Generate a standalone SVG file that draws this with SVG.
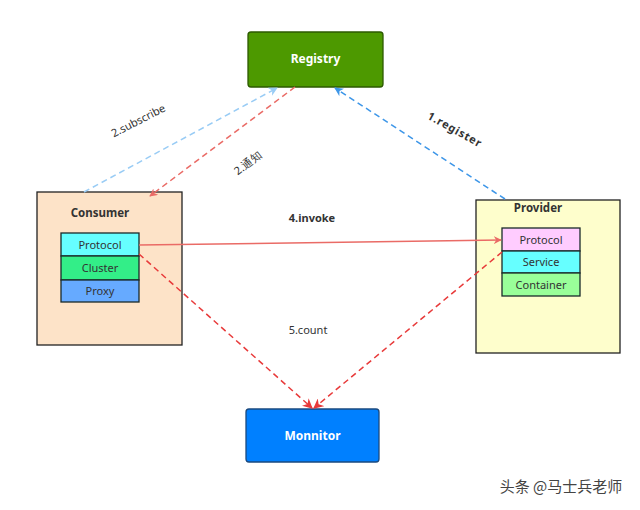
<svg xmlns="http://www.w3.org/2000/svg" width="640" height="510" viewBox="0 0 640 510">
<style>
text{font-family:"Noto Sans","Open Sans",sans-serif;font-size:11px;fill:#333;}
.b{font-weight:bold;}
.w{fill:#fff;font-weight:bold;font-size:12px;}
.box{stroke:#222;stroke-width:1.3;}
.in{stroke:#1a2a2a;stroke-width:1.3;}
.c{text-anchor:middle;}
.dash{fill:none;stroke-width:1.5;stroke-dasharray:6,4;}
</style>
<defs>
<marker id="ar" viewBox="0 0 10 10" refX="9" refY="5" markerWidth="8" markerHeight="8" orient="auto" markerUnits="userSpaceOnUse"><path d="M0,0 L10,5 L0,10 L3,5 Z" fill="#ea6b66"/></marker>
<marker id="ar2" viewBox="0 0 10 10" refX="9" refY="5" markerWidth="10" markerHeight="10" orient="auto" markerUnits="userSpaceOnUse"><path d="M0,0 L10,5 L0,10 L3,5 Z" fill="#e83a3a"/></marker>
<marker id="ab1" viewBox="0 0 10 10" refX="9" refY="5" markerWidth="9" markerHeight="9" orient="auto" markerUnits="userSpaceOnUse"><path d="M0,0 L10,5 L0,10 L3,5 Z" fill="#99ccf5"/></marker>
<marker id="ab2" viewBox="0 0 10 10" refX="9" refY="5" markerWidth="9" markerHeight="9" orient="auto" markerUnits="userSpaceOnUse"><path d="M0,0 L10,5 L0,10 L3,5 Z" fill="#3d96e8"/></marker>
</defs>

<g id="registry">
<rect x="248" y="32" width="135" height="55" rx="3" fill="#4d9900" stroke="#2d5a00" stroke-width="1.3"/>
<text x="315.5" y="63" class="w c">Registry</text>
</g>

<g id="consumer">
<rect x="37" y="192" width="145" height="153" fill="#fde3c8" class="box"/>
<text x="100" y="217" class="b c" style="font-size:11.5px">Consumer</text>
<rect x="61" y="233" width="78" height="23" fill="#66ffff" class="in"/>
<text x="100" y="248.5" class="c">Protocol</text>
<rect x="61" y="256" width="78" height="24" fill="#33ee88" class="in"/>
<text x="100" y="272" class="c">Cluster</text>
<rect x="61" y="280" width="78" height="22" fill="#66aaff" class="in"/>
<text x="100" y="295" class="c">Proxy</text>
</g>

<g id="provider">
<rect x="476" y="200" width="144" height="153" fill="#fefecc" class="box"/>
<text x="538" y="212" class="b c" style="font-size:11.5px">Provider</text>
<rect x="502" y="228" width="78" height="23" fill="#ffccff" class="in"/>
<text x="541" y="243.5" class="c">Protocol</text>
<rect x="502" y="251" width="78" height="22" fill="#66ffff" class="in"/>
<text x="541" y="266" class="c">Service</text>
<rect x="502" y="273" width="78" height="23" fill="#99ff99" class="in"/>
<text x="541" y="288.5" class="c">Container</text>
</g>

<g id="monitor">
<rect x="246" y="409" width="133" height="53" rx="3" fill="#0080ff" stroke="#1a4a80" stroke-width="1.3"/>
<text x="312.5" y="440" class="w c">Monnitor</text>
</g>

<g id="connectors">
<line x1="84" y1="192" x2="277" y2="88" stroke="#99ccf5" class="dash" marker-end="url(#ab1)"/>
<line x1="295" y1="87" x2="150" y2="196" stroke="#ea6b66" class="dash" marker-end="url(#ar)"/>
<line x1="505" y1="199" x2="335" y2="88" stroke="#3d96e8" class="dash" marker-end="url(#ab2)"/>
<line x1="139" y1="245" x2="501" y2="240" stroke="#ea6b66" stroke-width="1.5" marker-end="url(#ar)"/>
<line x1="139" y1="254" x2="312" y2="408" stroke="#e83a3a" class="dash" marker-end="url(#ar2)"/>
<line x1="502" y1="252" x2="314" y2="408" stroke="#e83a3a" class="dash" marker-end="url(#ar2)"/>
</g>

<text transform="translate(140,124) rotate(-27)" class="c">2.subscribe</text>
<text transform="translate(250,166) rotate(-38)" class="c" font-family="Noto Sans CJK SC, sans-serif">2.通知</text>
<text transform="translate(453,133) rotate(29)" class="b c" style="letter-spacing:0.8px">1.register</text>
<text x="312" y="222" class="b c">4.invoke</text>
<text x="308" y="334" class="c">5.count</text>
<text x="561" y="492" class="c" style="font-family:'Noto Sans CJK SC',sans-serif;font-size:15px;fill:#444">头条 @马士兵老师</text>
</svg>
